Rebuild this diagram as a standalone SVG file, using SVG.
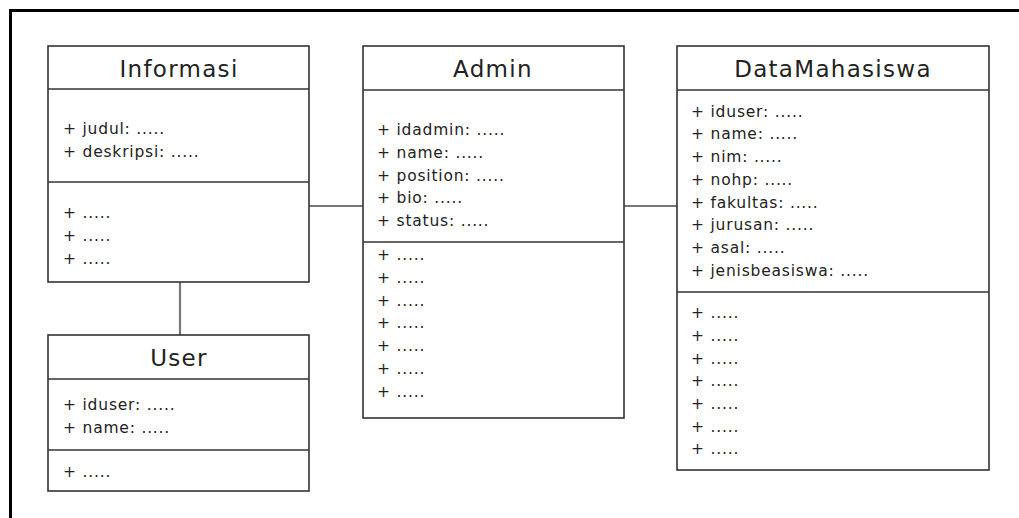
<svg xmlns="http://www.w3.org/2000/svg" width="1019" height="518" viewBox="0 0 1019 518">
  <style>
    .box { fill: #ffffff; stroke: #333333; stroke-width: 1.6; }
    .div { stroke: #333333; stroke-width: 1.6; }
    .link { stroke: #777777; stroke-width: 2.2; fill: none; }
    .title { font-family: "DejaVu Sans", "Liberation Sans", sans-serif; font-size: 23px; fill: #222222; text-anchor: middle; letter-spacing: 1.3px; }
    .item { font-family: "DejaVu Sans", "Liberation Sans", sans-serif; font-size: 15.5px; fill: #222222; letter-spacing: 0.8px; }
  </style>

  <rect x="0" y="0" width="1019" height="518" fill="#ffffff"/>
  <!-- outer frame, open to the right and bottom -->
  <path d="M10.5 518 V10.5 H1019" fill="none" stroke="#000000" stroke-width="3"/>

  <!-- associations -->
  <g id="connectors">
    <line class="link" x1="180" y1="282" x2="180" y2="335"/>
    <line class="link" x1="309" y1="206" x2="363" y2="206"/>
    <line class="link" x1="624" y1="206" x2="677" y2="206"/>
  </g>

  <g id="informasi">
    <rect class="box" x="48" y="46" width="261" height="236"/>
    <line class="div" x1="48" y1="89" x2="309" y2="89"/>
    <line class="div" x1="48" y1="182" x2="309" y2="182"/>
    <text class="title" x="179" y="77">Informasi</text>
    <text class="item" x="63" y="134">+ judul: .....</text>
    <text class="item" x="63" y="157">+ deskripsi: .....</text>
    <text class="item" x="63" y="218">+ .....</text>
    <text class="item" x="63" y="241">+ .....</text>
    <text class="item" x="63" y="264">+ .....</text>
  </g>

  <g id="user">
    <rect class="box" x="48" y="335" width="261" height="156"/>
    <line class="div" x1="48" y1="379" x2="309" y2="379"/>
    <line class="div" x1="48" y1="450" x2="309" y2="450"/>
    <text class="title" x="179" y="366">User</text>
    <text class="item" x="63" y="410">+ iduser: .....</text>
    <text class="item" x="63" y="433">+ name: .....</text>
    <text class="item" x="63" y="477">+ .....</text>
  </g>

  <g id="admin">
    <rect class="box" x="363" y="46" width="261" height="372"/>
    <line class="div" x1="363" y1="90" x2="624" y2="90"/>
    <line class="div" x1="363" y1="242" x2="624" y2="242"/>
    <text class="title" x="493" y="77">Admin</text>
    <text class="item" x="377" y="135">+ idadmin: .....</text>
    <text class="item" x="377" y="158">+ name: .....</text>
    <text class="item" x="377" y="181">+ position: .....</text>
    <text class="item" x="377" y="203">+ bio: .....</text>
    <text class="item" x="377" y="226">+ status: .....</text>
    <text class="item" x="377" y="260">+ .....</text>
    <text class="item" x="377" y="283">+ .....</text>
    <text class="item" x="377" y="306">+ .....</text>
    <text class="item" x="377" y="328">+ .....</text>
    <text class="item" x="377" y="351">+ .....</text>
    <text class="item" x="377" y="374">+ .....</text>
    <text class="item" x="377" y="397">+ .....</text>
  </g>

  <g id="datamahasiswa">
    <rect class="box" x="677" y="46" width="312" height="424"/>
    <line class="div" x1="677" y1="90" x2="989" y2="90"/>
    <line class="div" x1="677" y1="292" x2="989" y2="292"/>
    <text class="title" x="833" y="77">DataMahasiswa</text>
    <text class="item" x="691" y="117">+ iduser: .....</text>
    <text class="item" x="691" y="139">+ name: .....</text>
    <text class="item" x="691" y="162">+ nim: .....</text>
    <text class="item" x="691" y="185">+ nohp: .....</text>
    <text class="item" x="691" y="208">+ fakultas: .....</text>
    <text class="item" x="691" y="230">+ jurusan: .....</text>
    <text class="item" x="691" y="253">+ asal: .....</text>
    <text class="item" x="691" y="276">+ jenisbeasiswa: .....</text>
    <text class="item" x="691" y="318">+ .....</text>
    <text class="item" x="691" y="341">+ .....</text>
    <text class="item" x="691" y="364">+ .....</text>
    <text class="item" x="691" y="386">+ .....</text>
    <text class="item" x="691" y="409">+ .....</text>
    <text class="item" x="691" y="432">+ .....</text>
    <text class="item" x="691" y="454">+ .....</text>
  </g>
</svg>
